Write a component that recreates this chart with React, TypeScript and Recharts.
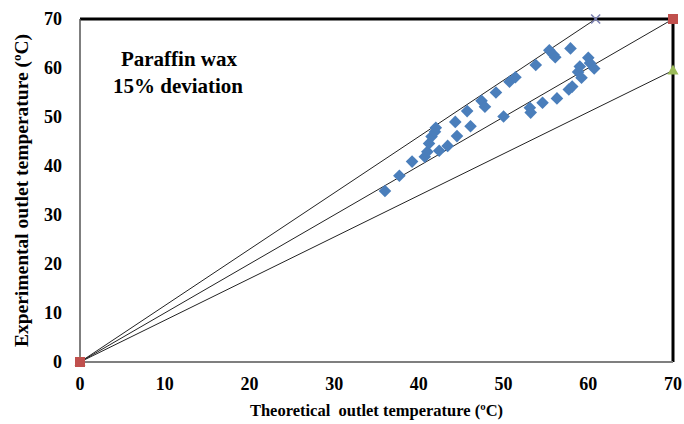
import React from "react";
import {
  ScatterChart,
  Scatter,
  XAxis,
  YAxis,
  ReferenceLine,
} from "recharts";

// measured points (theoretical, experimental)
const theoretical = [
  36.0, 37.7, 39.2, 40.7, 41.0, 41.2, 41.5, 41.9, 42.0, 42.4, 43.4, 44.3, 44.5,
  45.7, 46.1, 47.4, 47.8, 49.1, 50.0, 50.7, 51.4, 53.1, 53.2, 53.8, 54.6, 55.4,
  55.9, 56.1, 56.3, 57.9, 57.7, 58.1, 58.8, 59.0, 59.2, 60.0, 60.2, 60.7,
];
const experimental = [
  34.9, 38.0, 40.9, 41.9, 42.9, 44.6, 46.0, 47.0, 47.8, 43.1, 44.1, 49.0, 46.1,
  51.2, 48.1, 53.3, 52.1, 55.0, 50.1, 57.2, 58.1, 51.9, 50.9, 60.6, 52.9, 63.6,
  62.7, 62.2, 53.8, 64.0, 55.6, 56.2, 59.2, 60.3, 58.0, 62.1, 61.0, 59.9,
];

// reference lines: y = x and ±15 %
const perfectLine = [
  [0, 0],
  [70, 70],
];
const upperLine = [
  [0, 0],
  [60.87, 70],
];
const lowerLine = [
  [0, 0],
  [70, 59.5],
];

const ticks = [0, 10, 20, 30, 40, 50, 60, 70];

const points = theoretical.map((x, i) => ({ x, y: experimental[i] }));
const toXY = (arr: number[][]) => arr.map(([x, y]) => ({ x, y }));

const font = '"Liberation Serif", "Times New Roman", serif';

const Diamond = (props: any) => {
  const { cx, cy } = props;
  const r = 6.3;
  return (
    <polygon
      points={`${cx},${cy - r} ${cx + r},${cy} ${cx},${cy + r} ${cx - r},${cy}`}
      fill="#4A7EBB"
    />
  );
};

const Square = (props: any) => {
  const { cx, cy } = props;
  return <rect x={cx - 5} y={cy - 5} width={10} height={10} fill="#C0504D" />;
};

const Cross = (props: any) => {
  const { cx, cy } = props;
  const r = 4.5;
  return (
    <g stroke="#7A7FB0" strokeWidth={1.5}>
      <line x1={cx - r} y1={cy - r} x2={cx + r} y2={cy + r} />
      <line x1={cx - r} y1={cy + r} x2={cx + r} y2={cy - r} />
    </g>
  );
};

const Triangle = (props: any) => {
  const { cx, cy } = props;
  return (
    <polygon
      points={`${cx},${cy - 6} ${cx + 5.5},${cy + 4} ${cx - 5.5},${cy + 4}`}
      fill="#9BBB59"
    />
  );
};

const tickStyle = { fontFamily: font, fontSize: 18, fontWeight: 700, fill: "#000" };

export default function App() {
  return (
    <div style={{ position: "absolute", left: 0, top: 0, background: "#fff" }}>
      <ScatterChart
        width={684}
        height={424}
        margin={{ top: 19, right: 11, bottom: 32, left: 0 }}
      >
        <XAxis
          type="number"
          dataKey="x"
          domain={[0, 70]}
          ticks={ticks}
          height={30}
          tickLine={false}
          axisLine={{ stroke: "#7f7f7f", strokeWidth: 2 }}
          tick={tickStyle}
          tickMargin={9}
          label={{
            value: "Theoretical\u00a0 outlet temperature (ºC)",
            position: "bottom",
            offset: 12,
            style: { fontFamily: font, fontSize: 16.5, fontWeight: 700, fill: "#000" },
          }}
        />
        <YAxis
          type="number"
          dataKey="y"
          domain={[0, 70]}
          ticks={ticks}
          width={80}
          tickLine={false}
          axisLine={{ stroke: "#555", strokeWidth: 1.5 }}
          tick={tickStyle}
          tickMargin={12}
          label={{
            value: "Experimental outlet temperature (ºC)",
            angle: -90,
            position: "insideLeft",
            offset: 21,
            style: { fontFamily: font, fontSize: 19.5, fontWeight: 700, fill: "#000", textAnchor: "middle" },
          }}
        />
        <ReferenceLine y={70} stroke="#000" strokeWidth={3} />
        <ReferenceLine x={70} stroke="#000" strokeWidth={3} />
        <Scatter
          data={toXY(lowerLine)}
          line={{ stroke: "#222", strokeWidth: 1 }}
          shape={Triangle}
          isAnimationActive={false}
        />
        <Scatter
          data={toXY(upperLine)}
          line={{ stroke: "#222", strokeWidth: 1 }}
          shape={Cross}
          isAnimationActive={false}
        />
        <Scatter
          data={toXY(perfectLine)}
          line={{ stroke: "#222", strokeWidth: 1 }}
          shape={Square}
          isAnimationActive={false}
        />
        <Scatter data={points} shape={Diamond} isAnimationActive={false} />
        <text
          x={179}
          y={66}
          textAnchor="middle"
          style={{ fontFamily: font, fontSize: 21, fontWeight: 700 }}
        >
          Paraffin wax
        </text>
        <text
          x={178}
          y={93}
          textAnchor="middle"
          style={{ fontFamily: font, fontSize: 21, fontWeight: 700 }}
        >
          15% deviation
        </text>
      </ScatterChart>
    </div>
  );
}
